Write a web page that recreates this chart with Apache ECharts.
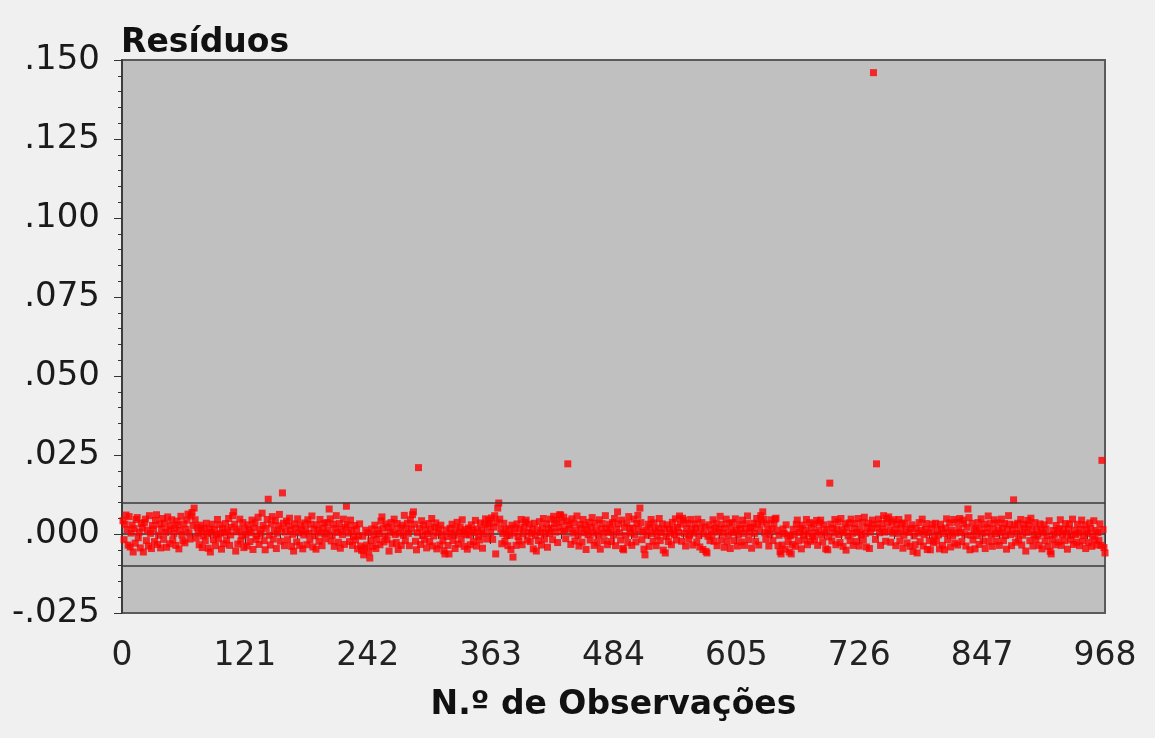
<!DOCTYPE html>
<html>
<head>
<meta charset="utf-8">
<script src="https://cdn.jsdelivr.net/npm/echarts@6/dist/echarts.min.js"></script>
<style>
  html, body { margin: 0; padding: 0; background: #f0f0f0; }
  #chart { width: 1155px; height: 738px; }
</style>
</head>
<body>
<div id="chart"></div>
<script>
// residuos por observação (obs 1..968)
var residuos = [
 .0042,-.0018,.0031,.006,.0014,-.0035,.0055,-.0041,.0003,.0028,-.0057,.0017,-.0029,.0046,.0052,-.0012,.0006,-.0044,.0033,.0019,
 -.0057,.0036,.0047,-.0021,.0012,-.0038,.0058,.0002,-.0046,.0027,.0015,-.0024,.0043,.0061,-.0033,-.0004,.0031,-.0044,.0016,.0049,
 -.0017,.0034,.0005,-.0042,.0054,.0013,-.0031,.0026,.0045,-.0019,.0002,.0018,-.0036,.0041,.0029,-.0047,.0011,.0056,-.0003,-.0022,
 .0032,-.0028,.0015,.0044,.0063,.0004,-.0016,.0057,.0068,.0027,.0082,.0045,-.0013,.0021,.0003,-.0034,.0028,.0012,-.0043,-.0006,
 .0018,-.0021,.0034,.0001,-.0045,.0016,-.0057,.0005,.0031,-.0018,.0014,-.0037,-.0002,.0046,-.0015,.0029,.0003,-.0048,.0017,-.0031,
 .0004,.0033,-.0019,.0012,.0049,-.0036,-.0003,.0021,.0058,.007,.0031,-.0054,.0007,-.0032,.0015,.0047,-.0022,-.0005,.0036,-.0043,
 .0016,-.0002,-.0038,.0029,.0013,-.0024,.0004,.0044,-.0049,.0019,.0035,-.0017,-.0006,.0053,-.0033,.0014,.0002,.0066,.0027,-.0021,
 -.005,.0018,.0046,.011,-.0004,-.0035,.0032,.0055,-.0016,.0011,.0043,-.0046,.0003,.0026,.0062,-.0023,.0015,.013,.0034,-.0037,
 .0006,.0041,-.0018,.0027,.005,.0012,-.0039,-.0001,-.0054,.0032,.0017,-.0025,.0048,.0004,-.0036,.0028,.0013,-.0047,-.0003,.0035,
 .0014,-.0034,.0045,.0002,-.0019,.0031,.0057,-.0041,.0016,-.0006,-.0048,.0029,.0011,-.0023,.0046,.0003,-.0037,.0019,.0034,-.0015,
 .0002,.0036,.0013,.0079,.0048,-.0022,-.0004,.0031,-.0039,.0017,.0058,.0005,-.0026,.0033,-.0045,.0014,-.0002,.0047,-.0033,.0021,
 .0088,.0029,.0003,-.0024,.0044,.0011,-.0036,-.0008,.0027,-.0019,.0015,-.0047,-.0005,.0032,-.0038,-.0052,-.0007,-.0066,-.0044,.0012,
 -.0035,.0004,-.0056,-.0076,-.0021,.0016,-.0039,-.0003,.0028,-.0046,-.0017,.0013,.0001,-.0034,.0041,.0054,.0018,-.0025,-.0006,.0032,
 -.0018,.0021,-.0054,.0005,.0036,-.0031,.0014,.0047,-.0002,-.0027,.0033,-.0049,.0003,.0019,-.0036,.0028,-.0004,.0059,-.0021,.0016,
 .0034,.0002,-.0037,.0045,.0015,.0061,.007,.0031,-.0023,-.005,.0004,.021,.0018,-.0033,.0042,-.0005,.0029,-.0019,.0012,-.0044,
 .0001,.0033,-.0024,.0014,.0049,-.0038,-.0006,.0021,.0035,-.0047,.0004,.0016,-.0035,.0028,-.0003,-.0022,-.0053,-.0063,.0013,-.0008,
 -.0036,-.0063,.0018,.0002,.0031,-.0021,-.0004,-.0046,.0015,.0037,-.0032,.0003,.0022,-.0017,.0045,.0006,-.0039,.0014,-.0002,-.0048,
 .0019,-.0003,-.0034,.0029,.0012,-.0024,.0005,.0043,-.0038,.0016,-.0007,-.0019,.0035,.0011,-.0045,.0002,.0031,.0048,-.0016,.0023,
 .0044,.0033,.0004,.0051,-.0017,.0022,.0058,-.0063,.0036,.0082,.0098,.0047,.0015,-.0031,.0002,.0034,-.0023,.0013,-.0005,-.0037,
 .0017,-.0004,-.0049,.0028,-.0073,.0003,.0019,-.0036,.0032,-.0008,-.0022,.0015,.0046,-.0034,.0001,.0021,.0037,.0044,-.0019,.0006,
 .0031,-.0024,.0002,.0016,-.0047,.0034,-.0005,-.0054,.0013,-.0021,.0039,.0004,-.0035,.0018,.0049,-.0016,.0003,.0032,-.0042,.0015,
 .0002,.0047,.0019,-.0018,.0056,.0033,.0006,.0044,-.0027,.0021,.0061,.006,.0037,.0008,.0053,.0014,-.0015,.0041,.0222,.0029,
 .0016,-.0033,.0048,.0003,.0035,-.0022,.0012,.0057,-.0004,-.0038,.0031,.0017,-.0026,.0046,.0004,.0028,-.0049,.0014,-.0002,.0037,
 -.0019,.0021,.0052,.0003,-.0036,.0034,.0012,-.0027,-.0005,.0045,-.0048,.0016,.0033,.0002,-.0021,.0058,.0018,-.0034,.0005,.0031,
 .0013,-.0024,.0036,-.0003,.0049,-.0037,.0015,.007,.0032,.0004,-.0019,.0044,-.0046,-.005,.0021,-.0005,.0034,-.0027,.0055,.0017,
 .0003,-.0036,.0019,.0047,-.0002,-.0025,.0033,.0059,.0014,.0082,.0036,-.0018,.0006,-.0048,-.0066,.0012,-.0004,.0031,-.0039,.0022,
 .0046,.0002,-.0023,.0035,.0013,-.0037,-.0006,.0018,.0049,-.0021,.0004,.0032,-.0051,.0015,-.006,-.0008,.0029,-.0024,.0016,.0003,
 -.0034,.0037,.0015,-.0002,.0048,-.0019,.0021,.0005,.0057,.0031,-.0023,.005,.0044,.0002,-.0038,.0017,.0034,-.0016,-.0004,.0046,
 .0014,-.0035,.0003,.0032,.0018,-.0026,.0047,-.0005,-.0041,.0016,.0036,-.0049,.0001,.0022,-.0055,-.006,-.0007,.0029,-.0021,.0013,
 -.0002,.0045,-.0023,.0019,.0034,-.0037,.0006,.0015,.0056,-.0019,.0031,.0003,-.0042,.0018,.0047,-.0024,-.0004,.0033,-.0046,.0012,
 .0036,.0004,-.0021,.0048,.0014,-.0038,-.0003,.0029,.0017,-.0025,.0044,.0002,-.0036,.0016,.0033,.0057,-.0018,.0005,.0021,-.0045,
 .0019,.0034,.0002,-.0023,.0049,.0031,-.0035,.0014,.0058,.0037,.007,.0046,.0004,-.0017,.0032,.0013,-.0038,-.0001,.0045,.0016,
 -.0021,.0033,.0047,.005,.0012,-.0037,-.0004,-.0056,-.0063,-.0035,.0016,.0002,-.0048,.0029,-.0003,-.0024,-.0057,-.0006,-.0063,-.0033,
 .0015,-.0002,-.0039,.0031,.0044,-.0022,.0005,.0017,-.0047,.0028,-.0004,-.0019,.0013,.0046,-.0034,.0002,.0036,-.0023,.0019,-.0007,
 .0032,-.0018,.0004,.0043,-.0036,.0012,.0035,.0044,-.0003,-.0025,.0029,.0006,-.0047,.0014,-.005,-.0009,.0161,.0031,-.0022,.0018,
 .0003,.0046,-.0034,.0015,.0038,-.0002,-.0027,.0049,.0013,-.0039,.0004,.0032,-.0051,.0019,-.0006,.0035,-.0021,.0047,.0002,-.0036,
 .0017,.0033,-.0024,.0005,.0049,-.0038,.0014,-.0003,.0036,-.0019,.0053,.0002,-.0041,.0021,.0034,-.0046,.0006,.0018,.0044,.146,
 .0031,-.0017,.0222,.0019,.0047,.0004,-.0036,.0033,.0015,.0058,.0006,-.0023,.0049,.0034,.0054,.0012,-.0026,.0037,.0003,.0045,
 .0014,-.0037,.0031,.0002,.0046,-.0022,.0016,.0035,-.0045,-.0004,.0032,.0013,-.0028,.0051,.0005,-.0039,.0017,.0029,-.0055,-.0006,
 -.0034,.0018,-.006,.0003,.0036,-.0024,.0011,.0047,-.0038,-.0002,.0015,.0033,-.0049,.0004,-.0021,-.005,.0016,.0031,-.0027,-.0005,
 .0034,-.0023,.0013,-.0003,-.0047,.0031,.0015,-.0036,.0002,-.005,.0019,.0048,-.0018,.0004,.0035,-.0041,.0012,-.0006,.0046,-.0029,
 .0003,.0037,-.0035,.0016,.0049,.0005,-.0024,.0044,.0032,-.0002,-.0038,.0021,.0079,.0052,-.005,-.0004,.0034,-.0019,.0013,-.0047,
 .0017,-.0005,.0036,-.0033,.0014,.0048,.0002,-.0022,.0031,-.0046,.0004,.0019,.0057,-.0024,.0033,-.0003,-.0039,.0016,.0045,.0001,
 -.0023,.0035,.0012,-.0036,.0003,.0047,.0018,-.0021,.0033,-.0005,-.0048,.0015,.0058,.0031,-.0002,-.0037,.0014,.0108,.0029,-.0026,
 .0002,.0034,-.0019,.0013,.0046,-.0035,-.0004,.0031,.0017,-.0054,.0005,.0043,.0028,-.0021,.005,.0014,-.0038,-.0003,.0036,-.0017,
 .0015,-.0006,-.0036,.0032,.0012,-.0047,.0003,.0029,-.0022,.0016,-.0005,-.0039,.0042,-.0055,-.0063,-.0018,.0011,-.0002,-.0034,.0027,
 .0004,-.0025,.0017,.0045,-.0036,-.0003,.0014,-.0021,.0033,.0002,-.0048,.0016,.0031,-.0019,-.0004,.0047,-.0033,.0012,-.0002,-.0026,
 .0031,.0003,-.0037,.0015,.0044,-.0022,-.0005,.0029,-.0046,.0013,.0002,-.0027,.0035,.0017,-.0039,-.0006,.0042,-.0018,.0011,-.0035,
 .0004,-.0021,.0032,-.0036,.0233,.0014,-.0043,-.006
];

// limites (linhas horizontais)
var limiteSup = 0.0101;
var limiteInf = -0.0122;

var yMin = -0.025, yMax = 0.150, yStep = 0.025;
var xMin = 0, xMax = 968, xStep = 121;

var chart = echarts.init(document.getElementById('chart'));

var pontos = residuos.map(function (v, i) { return [i + 1, v]; });

var option = {
    backgroundColor: '#f0f0f0',
    animation: false,
    title: {
        text: 'Resíduos',
        left: 116,
        top: 22,
        textStyle: { fontFamily: 'DejaVu Sans', fontWeight: 'bold', fontSize: 33, color: '#111' }
    },
    grid: {
        left: 122, right: 50, top: 60, bottom: 125,
        show: true,
        backgroundColor: '#c0c0c0',
        borderColor: '#5a5a5a',
        borderWidth: 2
    },
    xAxis: {
        type: 'value',
        min: xMin, max: xMax, interval: xStep,
        name: 'N.º de Observações',
        nameLocation: 'middle',
        nameGap: 76,
        nameTextStyle: { fontFamily: 'DejaVu Sans', fontWeight: 'bold', fontSize: 33, color: '#111' },
        axisLine: { lineStyle: { color: '#333', width: 1.5 } },
        axisTick: { show: true, inside: false, length: 10, lineStyle: { color: '#333' } },
        minorTick: { show: true, splitNumber: 7, length: 5, lineStyle: { color: '#333' } },
        axisLabel: { fontFamily: 'DejaVu Sans', fontSize: 33, color: '#222', margin: 27 },
        splitLine: { show: false }
    },
    yAxis: {
        type: 'value',
        min: yMin, max: yMax, interval: yStep,
        axisLine: { show: true, lineStyle: { color: '#333', width: 1.5 } },
        axisTick: { show: true, inside: false, length: 8, lineStyle: { color: '#333' } },
        minorTick: { show: true, splitNumber: 5, length: 4, lineStyle: { color: '#333' } },
        axisLabel: {
            fontFamily: 'DejaVu Sans', fontSize: 34, color: '#1a1a1a', margin: 22,
            padding: [10, 0, 0, 0],
            formatter: function (v) { return v.toFixed(3).replace('0.', '.'); }
        },
        splitLine: { show: false }
    },
    series: [{
        type: 'scatter',
        data: pontos,
        symbol: 'rect',
        symbolSize: 7,
        itemStyle: { color: '#ff0000' },
        markLine: {
            silent: true,
            symbol: 'none',
            label: { show: false },
            lineStyle: { color: '#3a3a3a', width: 1.5, type: 'solid' },
            data: [{ yAxis: limiteSup }, { yAxis: limiteInf }]
        }
    }]
};

chart.setOption(option);
</script>
</body>
</html>
